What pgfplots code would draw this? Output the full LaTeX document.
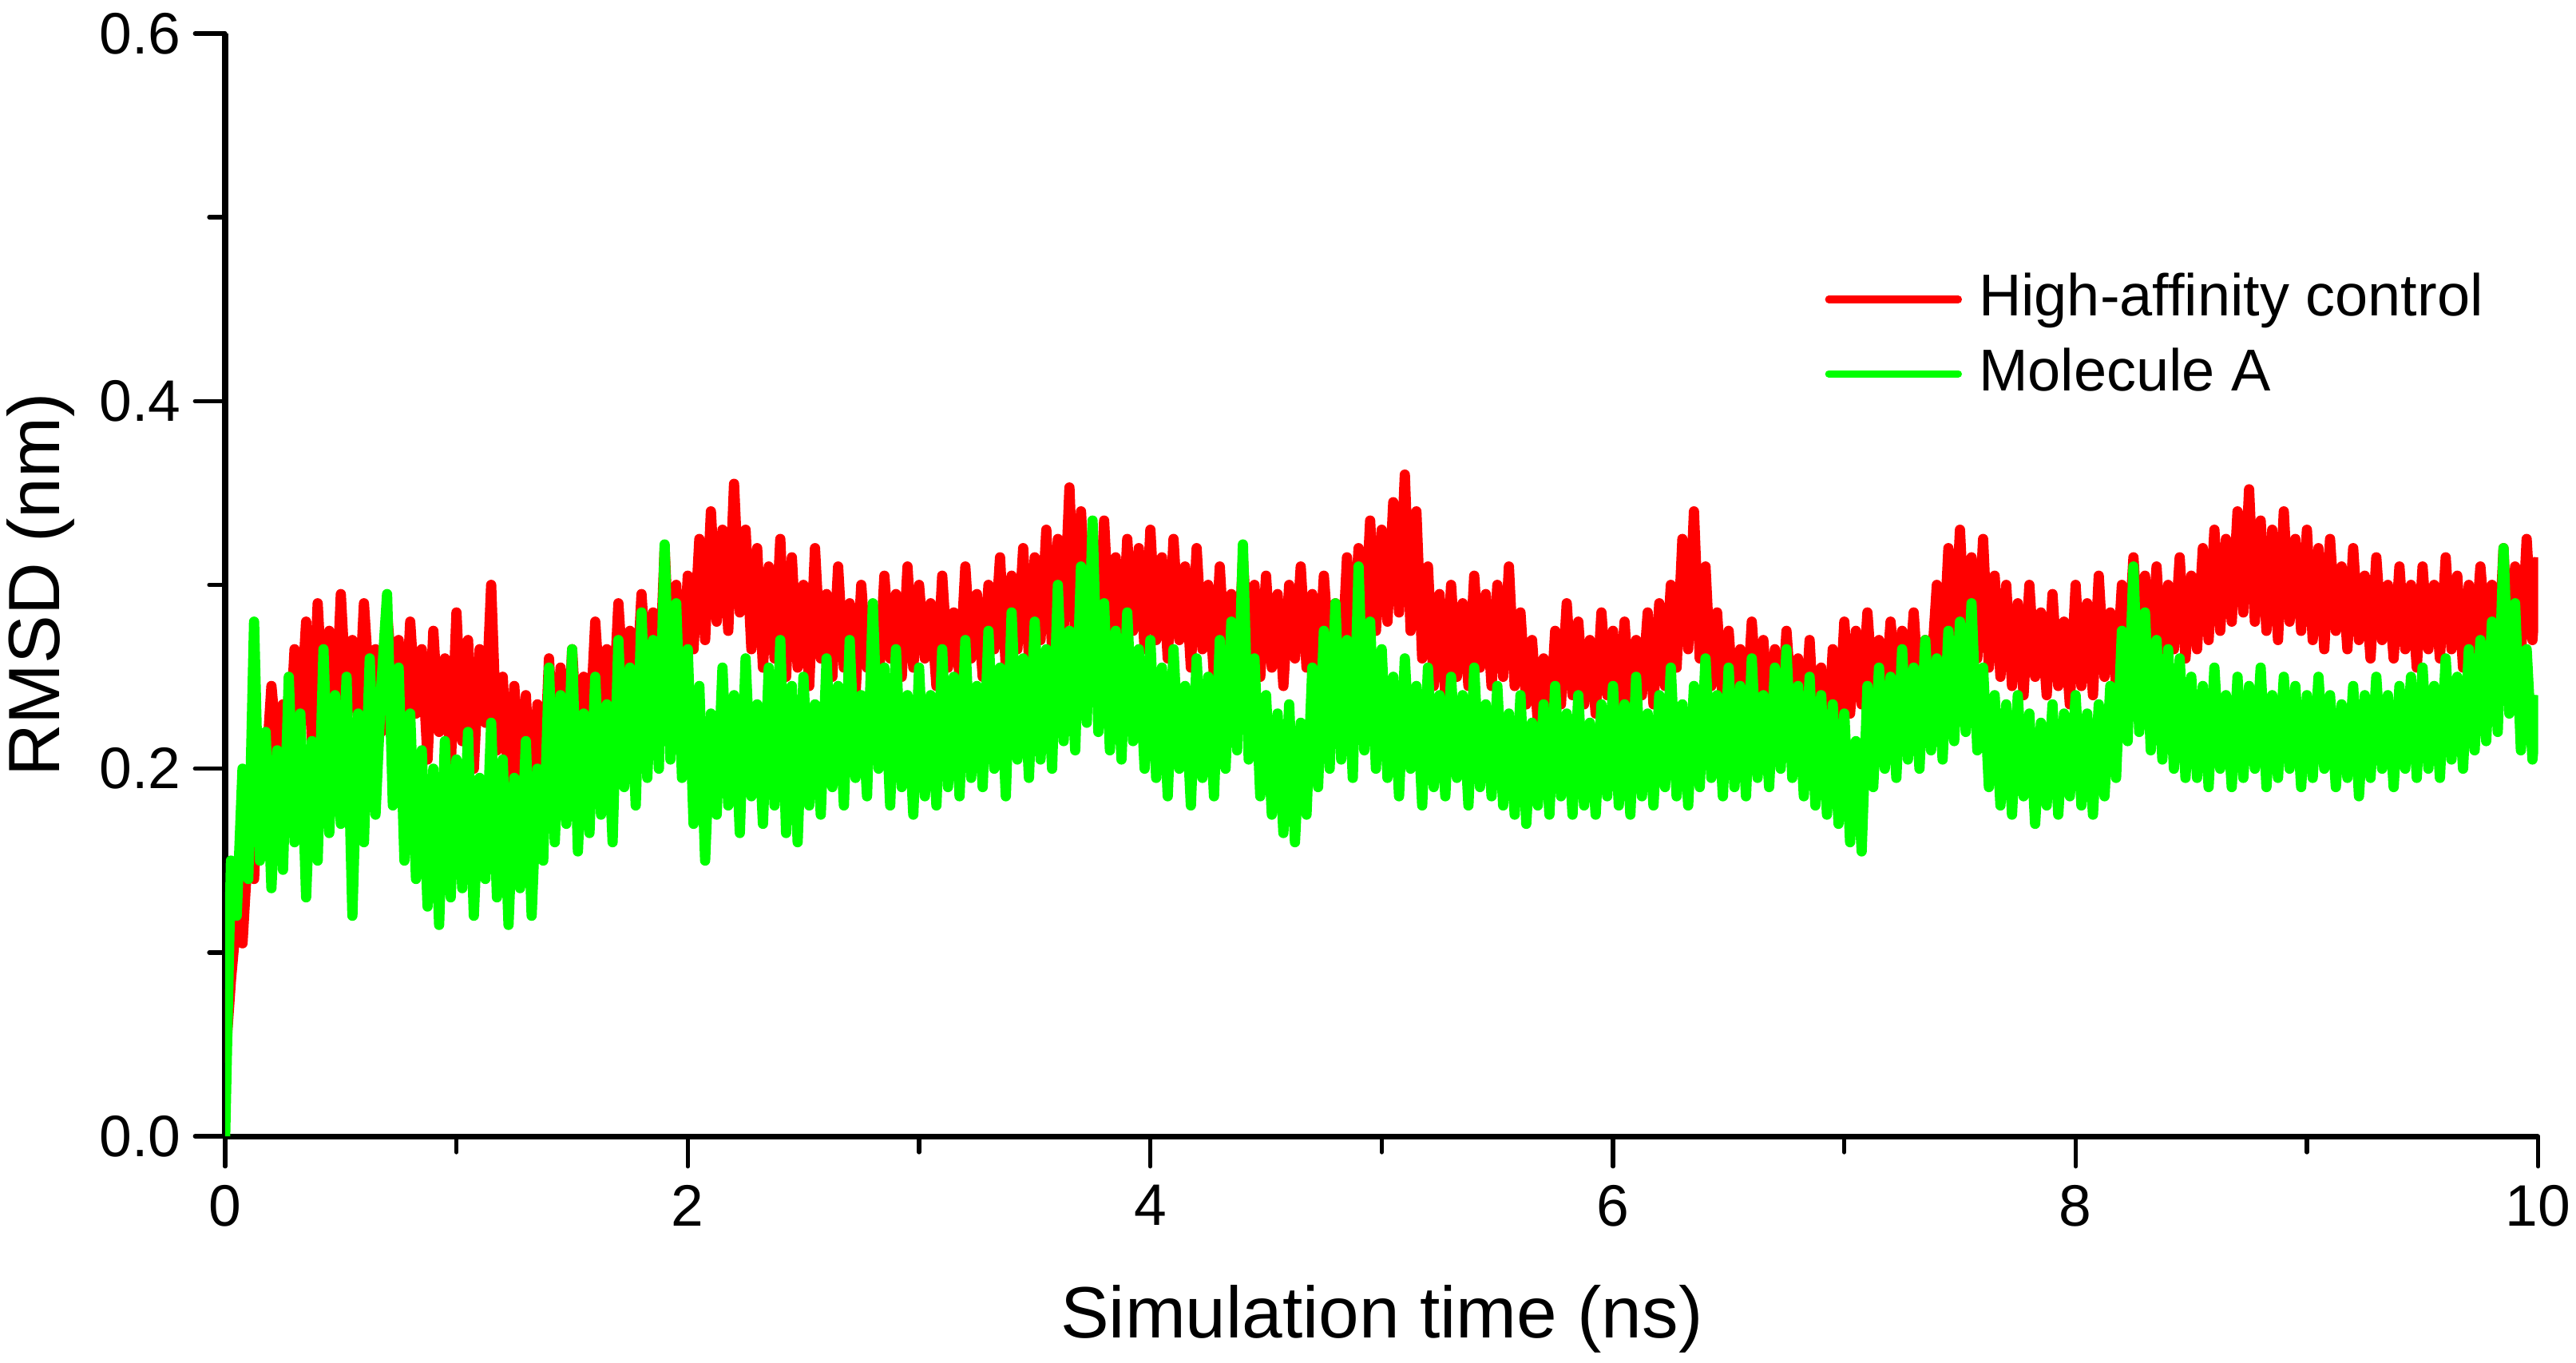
\documentclass[border=0pt]{standalone}
\usepackage{pgfplots}
\usepackage{pgfplotstable}
\pgfplotsset{compat=1.18}
\usepackage{fontspec}
\setmainfont{Liberation Sans}
\definecolor{rred}{RGB}{255,0,0}
\definecolor{ggreen}{RGB}{0,255,0}
\pgfplotstableread{
t r g
0.000 0.040 0.000
0.025 0.085 0.150
0.050 0.120 0.120
0.075 0.105 0.200
0.100 0.160 0.140
0.125 0.140 0.280
0.150 0.215 0.150
0.175 0.195 0.220
0.200 0.245 0.135
0.225 0.210 0.210
0.250 0.235 0.145
0.275 0.205 0.250
0.300 0.265 0.160
0.325 0.225 0.230
0.350 0.280 0.130
0.375 0.215 0.215
0.400 0.290 0.150
0.425 0.230 0.265
0.450 0.275 0.165
0.475 0.220 0.240
0.500 0.295 0.170
0.525 0.235 0.250
0.550 0.270 0.120
0.575 0.225 0.230
0.600 0.290 0.160
0.625 0.240 0.260
0.650 0.265 0.175
0.675 0.220 0.245
0.700 0.285 0.295
0.725 0.245 0.180
0.750 0.270 0.255
0.775 0.215 0.150
0.800 0.280 0.230
0.825 0.230 0.140
0.850 0.265 0.210
0.875 0.205 0.125
0.900 0.275 0.200
0.925 0.220 0.115
0.950 0.260 0.215
0.975 0.200 0.130
1.000 0.285 0.205
1.025 0.215 0.135
1.050 0.270 0.220
1.075 0.200 0.120
1.100 0.265 0.195
1.125 0.225 0.140
1.150 0.300 0.225
1.175 0.210 0.130
1.200 0.250 0.205
1.225 0.190 0.115
1.250 0.245 0.195
1.275 0.195 0.135
1.300 0.240 0.215
1.325 0.180 0.120
1.350 0.235 0.200
1.375 0.185 0.150
1.400 0.260 0.255
1.425 0.200 0.160
1.450 0.255 0.240
1.475 0.195 0.170
1.500 0.265 0.265
1.525 0.210 0.155
1.550 0.250 0.230
1.575 0.215 0.165
1.600 0.280 0.250
1.625 0.230 0.175
1.650 0.265 0.235
1.675 0.225 0.160
1.700 0.290 0.270
1.725 0.240 0.190
1.750 0.275 0.255
1.775 0.235 0.180
1.800 0.295 0.285
1.825 0.245 0.195
1.850 0.285 0.270
1.875 0.240 0.200
1.900 0.320 0.322
1.925 0.250 0.205
1.950 0.300 0.290
1.975 0.245 0.195
2.000 0.305 0.265
2.025 0.265 0.170
2.050 0.325 0.245
2.075 0.270 0.150
2.100 0.340 0.230
2.125 0.280 0.175
2.150 0.330 0.255
2.175 0.275 0.180
2.200 0.355 0.240
2.225 0.285 0.165
2.250 0.330 0.260
2.275 0.265 0.185
2.300 0.320 0.235
2.325 0.255 0.170
2.350 0.310 0.255
2.375 0.260 0.180
2.400 0.325 0.270
2.425 0.250 0.165
2.450 0.315 0.245
2.475 0.255 0.160
2.500 0.300 0.250
2.525 0.245 0.180
2.550 0.320 0.235
2.575 0.260 0.175
2.600 0.295 0.260
2.625 0.250 0.190
2.650 0.310 0.245
2.675 0.255 0.180
2.700 0.290 0.270
2.725 0.240 0.195
2.750 0.300 0.240
2.775 0.255 0.185
2.800 0.285 0.290
2.825 0.245 0.200
2.850 0.305 0.255
2.875 0.260 0.180
2.900 0.295 0.265
2.925 0.250 0.190
2.950 0.310 0.240
2.975 0.255 0.175
3.000 0.300 0.255
3.025 0.260 0.185
3.050 0.290 0.240
3.075 0.245 0.180
3.100 0.305 0.265
3.125 0.255 0.190
3.150 0.285 0.250
3.175 0.250 0.185
3.200 0.310 0.270
3.225 0.260 0.195
3.250 0.295 0.245
3.275 0.250 0.190
3.300 0.300 0.275
3.325 0.265 0.200
3.350 0.315 0.255
3.375 0.255 0.185
3.400 0.305 0.285
3.425 0.265 0.205
3.450 0.320 0.260
3.475 0.260 0.195
3.500 0.315 0.280
3.525 0.270 0.205
3.550 0.330 0.265
3.575 0.265 0.200
3.600 0.325 0.300
3.625 0.275 0.215
3.650 0.353 0.275
3.675 0.270 0.210
3.700 0.340 0.310
3.725 0.280 0.225
3.750 0.320 0.335
3.775 0.265 0.220
3.800 0.335 0.290
3.825 0.270 0.210
3.850 0.315 0.275
3.875 0.260 0.205
3.900 0.325 0.285
3.925 0.275 0.215
3.950 0.320 0.265
3.975 0.265 0.200
4.000 0.330 0.270
4.025 0.270 0.195
4.050 0.315 0.255
4.075 0.260 0.185
4.100 0.325 0.265
4.125 0.270 0.200
4.150 0.310 0.245
4.175 0.255 0.180
4.200 0.320 0.260
4.225 0.265 0.195
4.250 0.300 0.250
4.275 0.250 0.185
4.300 0.310 0.270
4.325 0.255 0.200
4.350 0.295 0.280
4.375 0.245 0.210
4.400 0.315 0.322
4.425 0.260 0.205
4.450 0.300 0.260
4.475 0.250 0.185
4.500 0.305 0.240
4.525 0.255 0.175
4.550 0.295 0.230
4.575 0.245 0.165
4.600 0.300 0.235
4.625 0.260 0.160
4.650 0.310 0.225
4.675 0.255 0.175
4.700 0.295 0.255
4.725 0.250 0.190
4.750 0.305 0.275
4.775 0.260 0.200
4.800 0.290 0.290
4.825 0.250 0.205
4.850 0.315 0.270
4.875 0.265 0.195
4.900 0.320 0.310
4.925 0.270 0.210
4.950 0.335 0.280
4.975 0.275 0.200
5.000 0.330 0.265
5.025 0.280 0.195
5.050 0.345 0.250
5.075 0.285 0.185
5.100 0.360 0.260
5.125 0.275 0.200
5.150 0.340 0.245
5.175 0.260 0.180
5.200 0.310 0.255
5.225 0.245 0.190
5.250 0.295 0.240
5.275 0.240 0.185
5.300 0.300 0.250
5.325 0.250 0.195
5.350 0.290 0.240
5.375 0.245 0.180
5.400 0.305 0.255
5.425 0.255 0.190
5.450 0.295 0.235
5.475 0.245 0.185
5.500 0.300 0.245
5.525 0.250 0.180
5.550 0.310 0.230
5.575 0.245 0.175
5.600 0.285 0.240
5.625 0.235 0.170
5.650 0.270 0.225
5.675 0.225 0.180
5.700 0.260 0.235
5.725 0.220 0.175
5.750 0.275 0.245
5.775 0.235 0.185
5.800 0.290 0.230
5.825 0.240 0.175
5.850 0.280 0.240
5.875 0.235 0.180
5.900 0.270 0.225
5.925 0.230 0.175
5.950 0.285 0.235
5.975 0.240 0.185
6.000 0.275 0.245
6.025 0.235 0.180
6.050 0.280 0.235
6.075 0.230 0.175
6.100 0.270 0.250
6.125 0.240 0.185
6.150 0.285 0.230
6.175 0.235 0.180
6.200 0.290 0.240
6.225 0.245 0.190
6.250 0.300 0.255
6.275 0.255 0.185
6.300 0.325 0.235
6.325 0.265 0.180
6.350 0.340 0.245
6.375 0.260 0.190
6.400 0.310 0.260
6.425 0.245 0.195
6.450 0.285 0.240
6.475 0.235 0.185
6.500 0.275 0.255
6.525 0.230 0.190
6.550 0.265 0.245
6.575 0.225 0.185
6.600 0.280 0.260
6.625 0.235 0.195
6.650 0.270 0.240
6.675 0.225 0.190
6.700 0.265 0.255
6.725 0.220 0.200
6.750 0.275 0.265
6.775 0.230 0.195
6.800 0.260 0.245
6.825 0.215 0.185
6.850 0.270 0.250
6.875 0.210 0.180
6.900 0.255 0.240
6.925 0.205 0.175
6.950 0.265 0.235
6.975 0.220 0.170
7.000 0.280 0.230
7.025 0.230 0.160
7.050 0.275 0.215
7.075 0.235 0.155
7.100 0.285 0.245
7.125 0.240 0.190
7.150 0.270 0.255
7.175 0.235 0.200
7.200 0.280 0.250
7.225 0.245 0.195
7.250 0.275 0.265
7.275 0.240 0.205
7.300 0.285 0.255
7.325 0.235 0.200
7.350 0.270 0.270
7.375 0.250 0.210
7.400 0.300 0.260
7.425 0.255 0.205
7.450 0.320 0.275
7.475 0.265 0.215
7.500 0.330 0.280
7.525 0.265 0.220
7.550 0.315 0.290
7.575 0.260 0.210
7.600 0.325 0.255
7.625 0.255 0.190
7.650 0.305 0.240
7.675 0.250 0.180
7.700 0.300 0.235
7.725 0.245 0.175
7.750 0.290 0.240
7.775 0.240 0.185
7.800 0.300 0.230
7.825 0.250 0.170
7.850 0.285 0.225
7.875 0.240 0.180
7.900 0.295 0.235
7.925 0.245 0.175
7.950 0.280 0.230
7.975 0.235 0.185
8.000 0.300 0.240
8.025 0.245 0.180
8.050 0.290 0.230
8.075 0.240 0.175
8.100 0.305 0.235
8.125 0.250 0.185
8.150 0.285 0.245
8.175 0.245 0.195
8.200 0.300 0.275
8.225 0.260 0.215
8.250 0.315 0.310
8.275 0.265 0.220
8.300 0.305 0.285
8.325 0.260 0.210
8.350 0.310 0.270
8.375 0.255 0.205
8.400 0.300 0.265
8.425 0.265 0.200
8.450 0.315 0.260
8.475 0.260 0.195
8.500 0.305 0.250
8.525 0.265 0.195
8.550 0.320 0.245
8.575 0.270 0.190
8.600 0.330 0.255
8.625 0.275 0.200
8.650 0.325 0.240
8.675 0.280 0.190
8.700 0.340 0.250
8.725 0.285 0.195
8.750 0.352 0.245
8.775 0.280 0.200
8.800 0.335 0.255
8.825 0.275 0.190
8.850 0.330 0.240
8.875 0.270 0.195
8.900 0.340 0.250
8.925 0.280 0.200
8.950 0.325 0.245
8.975 0.275 0.190
9.000 0.330 0.240
9.025 0.270 0.195
9.050 0.320 0.250
9.075 0.265 0.200
9.100 0.325 0.240
9.125 0.275 0.190
9.150 0.310 0.235
9.175 0.265 0.195
9.200 0.320 0.245
9.225 0.270 0.185
9.250 0.305 0.240
9.275 0.260 0.195
9.300 0.315 0.250
9.325 0.270 0.200
9.350 0.300 0.240
9.375 0.260 0.190
9.400 0.310 0.245
9.425 0.265 0.200
9.450 0.300 0.250
9.475 0.255 0.195
9.500 0.310 0.255
9.525 0.265 0.200
9.550 0.300 0.245
9.575 0.260 0.195
9.600 0.315 0.260
9.625 0.265 0.205
9.650 0.305 0.250
9.675 0.255 0.200
9.700 0.300 0.265
9.725 0.265 0.210
9.750 0.310 0.270
9.775 0.270 0.215
9.800 0.300 0.280
9.825 0.255 0.220
9.850 0.320 0.320
9.875 0.245 0.230
9.900 0.310 0.290
9.925 0.260 0.210
9.950 0.325 0.265
9.975 0.270 0.205
10.000 0.315 0.240
}\rmsd
\begin{document}
\begin{tikzpicture}
\begin{axis}[
  at={(0,0)}, anchor=south west,
  scale only axis,
  width=407.3pt, height=194.2pt,
  xmin=0, xmax=10, ymin=0, ymax=0.6,
  axis x line*=bottom, axis y line*=left,
  axis line style={line width=1pt,-},
  tick align=outside,
  major tick length=5.3pt, minor tick length=2.8pt,
  every tick/.style={line width=0.75pt, black, line cap=round},
  xtick={0,2,4,6,8,10}, minor xtick={1,3,5,7,9},
  ytick={0,0.2,0.4,0.6}, minor ytick={0.1,0.3,0.5},
  /pgf/number format/assume math mode=true,
  ticklabel style={font=\fontsize{10.3}{12}\selectfont, inner sep=0pt},
  xticklabel shift=3.1pt, yticklabel shift=2.35pt,
  yticklabel style={/pgf/number format/.cd, fixed, fixed zerofill, precision=1},
  xlabel={Simulation time (ns)}, ylabel={RMSD (nm)},
  every axis x label/.style={at={(axis description cs:0.5,-0.166)}, anchor=center, font=\fontsize{12.8}{15}\selectfont},
  every axis y label/.style={at={(axis description cs:-0.0798,0.5)}, anchor=center, rotate=90, font=\fontsize{12.8}{15}\selectfont},
  legend style={draw=none, fill=none, inner sep=0pt, outer sep=0pt,
    at={(axis cs:6.917,0.4697)}, anchor=north west,
    font=\fontsize{10.4}{12}\selectfont,
    row sep=3.3pt,
    nodes={inner sep=0pt, text height=7.6pt, text depth=2.2pt}},
  legend cell align=left,
  legend image code/.code={\draw[#1, line width=1.3pt, line cap=round] (0pt,0.25pt) -- (22.8pt,0.25pt);},
  /tikz/every even column/.append style={column sep=0pt},
]
\addplot[rred, line width=1.8pt, line join=round] table[x=t, y=r] {\rmsd};
\addlegendentry{\hspace{2.95pt}High-affinity control}
\addplot[ggreen, line width=1.8pt, line join=round] table[x=t, y=g] {\rmsd};
\addlegendentry{\hspace{2.95pt}Molecule A}
\end{axis}
\pgfresetboundingbox
\useasboundingbox (-39.65pt,-39.8pt) rectangle (413.95pt,200.1pt);
\end{tikzpicture}
\end{document}
